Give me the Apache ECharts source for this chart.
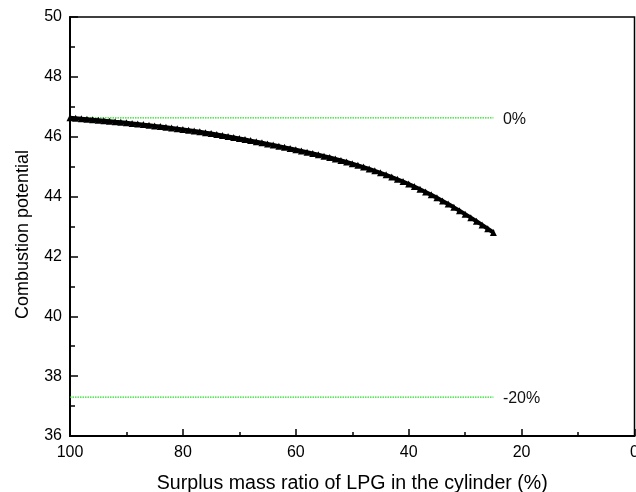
<!DOCTYPE html>
<html>
<head>
<meta charset="utf-8">
<script src="https://cdn.jsdelivr.net/npm/echarts@6/dist/echarts.min.js"></script>
<style>html,body{margin:0;padding:0;background:#fff}#c{width:636px;height:492px}</style>
</head>
<body>
<div id="c"></div>
<script>
const xValues = [100,99,98,97,96,95,94,93,92,91,90,89,88,87,86,85,84,83,82,81,80,79,78,77,76,75,74,73,72,71,70,69,68,67,66,65,64,63,62,61,60,59,58,57,56,55,54,53,52,51,50,49,48,47,46,45,44,43,42,41,40,39,38,37,36,35,34,33,32,31,30,29,28,27,26,25];
const potential = [46.63,46.615,46.60,46.585,46.57,46.553,46.536,46.519,46.50,46.482,46.463,46.444,46.424,46.404,46.383,46.362,46.34,46.317,46.294,46.27,46.245,46.219,46.192,46.164,46.135,46.105,46.074,46.042,46.01,45.977,45.94,45.905,45.87,45.834,45.797,45.76,45.722,45.684,45.645,45.606,45.566,45.525,45.483,45.44,45.396,45.351,45.305,45.257,45.207,45.155,45.10,45.043,44.984,44.923,44.86,44.794,44.725,44.653,44.578,44.50,44.418,44.333,44.244,44.152,44.057,43.958,43.855,43.749,43.64,43.528,43.413,43.296,43.176,43.052,42.925,42.80];
const refStart = 100, refEnd = 25;
const ref0 = 46.63;
const refMinus20 = 37.30;
const refLabels = ['0%', '-20%'];
const xTicks = [100,80,60,40,20,0];
const yTicks = [36,38,40,42,44,46,48,50];

const chart = echarts.init(document.getElementById('c'));
const font = 'Liberation Sans, Arial, sans-serif';
function refSeries(v) {
  return {
    type: 'line', symbol: 'none', silent: true,
    data: [[refStart, v], [refEnd, v]],
    lineStyle: { color: '#22e022', width: 1.2, type: [1.5, 1] }
  };
}
chart.setOption({
  animation: false,
  grid: { left: 70, right: 1.5, top: 17, bottom: 56, outerBoundsMode: 'none', containLabel: false, show: true, borderColor: '#000', borderWidth: 1.5, backgroundColor: 'transparent' },
  xAxis: {
    type: 'value', inverse: true, min: xTicks[xTicks.length-1], max: xTicks[0], interval: 20,
    name: 'Surplus mass ratio of LPG in the cylinder (%)', nameLocation: 'middle', nameGap: 38,
    nameTextStyle: { fontSize: 19.6, color: '#000', fontFamily: font },
    axisLine: { onZero: false, lineStyle: { color: '#000', width: 2 } },
    axisTick: { inside: true, length: 7, lineStyle: { color: '#000', width: 1.5 } },
    minorTick: { show: true, splitNumber: 2, length: 4, lineStyle: { color: '#000', width: 1.5 } },
    axisLabel: { fontSize: 16, color: '#000', margin: 9, fontFamily: font },
    splitLine: { show: false }
  },
  yAxis: {
    type: 'value', min: yTicks[0], max: yTicks[yTicks.length-1], interval: 2,
    name: 'Combustion potential', nameLocation: 'middle', nameGap: 38,
    nameTextStyle: { fontSize: 18, color: '#000', fontFamily: font, padding: [0, 16, 0, 0] },
    axisLine: { show: true, onZero: false, lineStyle: { color: '#000', width: 2 } },
    axisTick: { show: true, inside: true, length: 8, lineStyle: { color: '#000', width: 1.5 } },
    minorTick: { show: true, splitNumber: 2, length: 5, lineStyle: { color: '#000', width: 1.5 } },
    axisLabel: { fontSize: 16, color: '#000', margin: 8, fontFamily: font },
    splitLine: { show: false }
  },
  series: [
    refSeries(ref0),
    refSeries(refMinus20),
    {
      type: 'scatter', silent: true, symbolSize: 1,
      itemStyle: { color: 'rgba(255,255,255,0)', opacity: 1 },
      data: [[refEnd, ref0], [refEnd, refMinus20]],
      label: { show: true, position: 'right', distance: 9, offset: [0, 2], color: '#111', opacity: 1, fontSize: 16, fontFamily: font,
        formatter: p => refLabels[p.dataIndex] }
    },
    {
      type: 'line', data: xValues.map((x, i) => [x, potential[i]]),
      symbol: 'triangle', symbolSize: 7, showAllSymbol: true,
      itemStyle: { color: '#000' }, lineStyle: { color: '#000', width: 4 }
    }
  ]
});
</script>
</body>
</html>
